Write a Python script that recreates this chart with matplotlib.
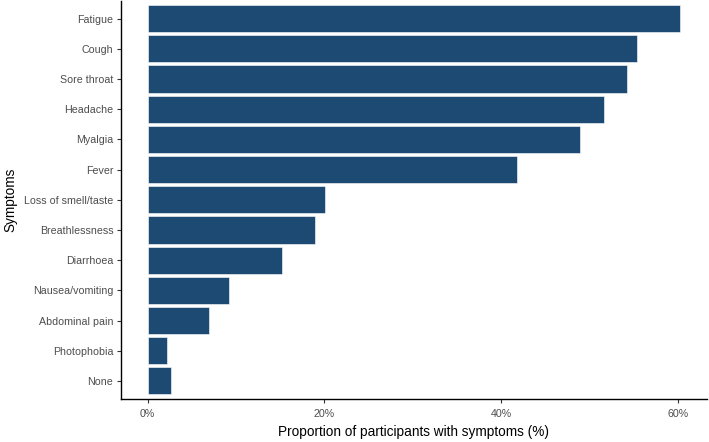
import matplotlib
matplotlib.use("Agg")
import matplotlib.pyplot as plt
from matplotlib.ticker import FuncFormatter

plt.rcParams['font.family'] = ['Liberation Sans', 'DejaVu Sans']

# symptoms listed top to bottom, proportion in %
symptoms = ['Fatigue', 'Cough', 'Sore throat', 'Headache', 'Myalgia', 'Fever',
            'Loss of smell/taste', 'Breathlessness', 'Diarrhoea',
            'Nausea/vomiting', 'Abdominal pain', 'Photophobia', 'None']
proportions = [60.3, 55.4, 54.3, 51.6, 48.9, 41.8,
               20.1, 19.0, 15.2, 9.2, 7.0, 2.2, 2.7]
xticks = [0, 20, 40, 60]

bar_color = '#1d4a73'
text_grey = '#4d4d4d'

fig = plt.figure(figsize=(7.09, 4.42), dpi=100)
ax = fig.add_axes([121 / 709, 43 / 442, 586 / 709, 398.5 / 442])

ypos = list(range(len(symptoms)))[::-1]
ax.barh(ypos, proportions, height=0.9, color=bar_color,
        edgecolor='white', linewidth=0.4)

top = max(proportions)
ax.set_xlim(-0.05 * top, top * 1.05)
ax.set_ylim(-0.6, len(symptoms) - 1 + 0.6)

ax.set_yticks(ypos)
ax.set_yticklabels(symptoms)
ax.set_xticks(xticks)
ax.xaxis.set_major_formatter(FuncFormatter(lambda v, p: '%d%%' % v))

for side in ['top', 'right']:
    ax.spines[side].set_visible(False)
for side in ['left', 'bottom']:
    ax.spines[side].set_linewidth(1.0)
    ax.spines[side].set_color('black')

ax.tick_params(axis='both', length=3, width=0.8, color='#333333',
               labelsize=7.7, labelcolor=text_grey)
ax.tick_params(axis='y', pad=2.5)
ax.tick_params(axis='x', pad=4)

ax.set_xlabel('Proportion of participants with symptoms (%)', fontsize=9.8,
              color='black', labelpad=4.5)
ax.set_ylabel('Symptoms', fontsize=9.8, color='black', labelpad=5)

fig.savefig('out.png', dpi=100)
